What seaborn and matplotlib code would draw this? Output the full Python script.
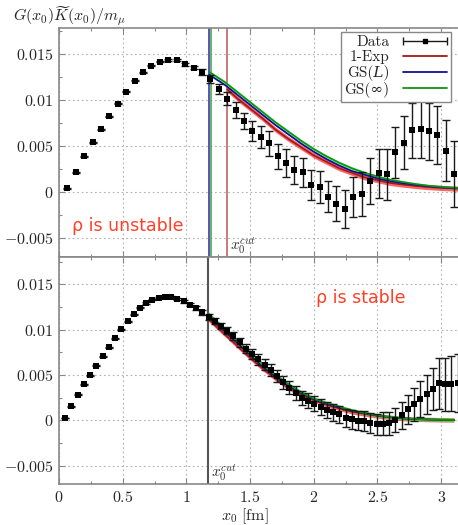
import numpy as np
import matplotlib
matplotlib.use("Agg")
import matplotlib.pyplot as plt
from matplotlib.ticker import MultipleLocator, FuncFormatter
from matplotlib.lines import Line2D
from matplotlib.legend_handler import HandlerErrorbar
import seaborn as sns

# ---------------- data ----------------
# lattice spacings of the two ensembles (fm)
a_top = 0.066
a_bot = 0.0489

# integrand G(x0) K(x0)/m_mu, upper ensemble
g_top = [0.00044, 0.00218, 0.00393, 0.00545, 0.00687, 0.00825, 0.00964, 0.01095, 0.01211, 0.01305,
         0.01375, 0.01422, 0.01436, 0.01436, 0.01393, 0.01356, 0.01305, 0.01229, 0.01127, 0.01018,
         0.00895, 0.00775, 0.00665, 0.00600, 0.00531, 0.00389, 0.00316, 0.00240, 0.00215, 0.00076,
         0.00055, -0.00050, -0.00124, -0.00185, -0.00050, -0.00020, 0.00124, 0.00204, 0.00193, 0.00433,
         0.00538, 0.00673, 0.00684, 0.00662, 0.00622, 0.00451, 0.00193]
e_top = [0.00005, 0.00005, 0.00005, 0.00005, 0.00005, 0.00005, 0.00005, 0.00005, 0.00005, 0.00005,
         0.00005, 0.00005, 0.0001, 0.0001, 0.00015, 0.0002, 0.00035, 0.00045, 0.00055, 0.0007,
         0.0009, 0.0009, 0.0011, 0.0012, 0.0014, 0.0014, 0.0015, 0.0015, 0.0016, 0.0016,
         0.0017, 0.0017, 0.0019, 0.0021, 0.0022, 0.0024, 0.0025, 0.0027, 0.0028, 0.0028,
         0.0029, 0.0030, 0.0031, 0.0031, 0.0032, 0.0033, 0.0036]

# integrand, lower ensemble
g_bot = [0.00026, 0.00157, 0.00282, 0.00395, 0.00497, 0.00600, 0.00706, 0.00805, 0.00907, 0.01002,
         0.01094, 0.01170, 0.01240, 0.01291, 0.01331, 0.01353, 0.01364, 0.01357, 0.01339, 0.01313,
         0.01276, 0.01240, 0.01189, 0.01137, 0.01090, 0.01040, 0.00990, 0.00930, 0.00860, 0.00790,
         0.00730, 0.00673, 0.00611, 0.00553, 0.00490, 0.00420, 0.00360, 0.00300, 0.00250, 0.00216,
         0.00183, 0.00150, 0.00113, 0.00090, 0.00066, 0.00025, 0.00010, -0.00005, -0.00005, -0.00030,
         -0.00045, -0.00037, -0.00035, 0.00003, 0.00055, 0.00123, 0.00178, 0.00233, 0.00285, 0.00344,
         0.00407, 0.00396, 0.00404, 0.00407]
e_bot = [0.00005, 0.00005, 0.00005, 0.00005, 0.00005, 0.00005, 0.00005, 0.00005, 0.00005, 0.00005,
         0.00006, 0.00006, 0.00007, 0.00008, 0.00008, 0.00009, 0.0001, 0.0001, 0.00012, 0.00015,
         0.0002, 0.00022, 0.00025, 0.0003, 0.00033, 0.00036, 0.0004, 0.00045, 0.0005, 0.00052,
         0.00055, 0.00058, 0.0006, 0.00063, 0.00066, 0.0007, 0.00072, 0.00075, 0.00078, 0.0008,
         0.00083, 0.00086, 0.0009, 0.00093, 0.00096, 0.0010, 0.00103, 0.00107, 0.0011, 0.00115,
         0.0012, 0.00125, 0.0013, 0.00135, 0.0015, 0.0016, 0.0018, 0.0020, 0.0021, 0.0023,
         0.0028, 0.0029, 0.0030, 0.0032]

x_top = a_top * np.arange(1, len(g_top) + 1)
x_bot = a_bot * np.arange(1, len(g_bot) + 1)

# model curves (upper ensemble)
gs_x_top = [1.18, 1.2, 1.3, 1.4, 1.5, 1.6, 1.7, 1.8, 1.9, 2.0, 2.1, 2.2, 2.3, 2.4, 2.5, 2.6,
            2.7, 2.8, 2.9, 3.0, 3.1, 3.14]
gsinf_top = [0.0131, 0.0129, 0.0120, 0.0109, 0.0098, 0.0087, 0.0076, 0.0066, 0.0056, 0.0047, 0.0039,
             0.0032, 0.0026, 0.0021, 0.0017, 0.00135, 0.0011, 0.00088, 0.0007, 0.00058, 0.00048, 0.00045]
gsL_top = [0.0128, 0.0126, 0.0117, 0.0106, 0.0095, 0.0084, 0.0073, 0.0063, 0.0053, 0.0044, 0.0036,
           0.0029, 0.0023, 0.0019, 0.0015, 0.0012, 0.00097, 0.0008, 0.00064, 0.00053, 0.00045, 0.00042]
exp_x_top = [1.32, 1.4, 1.5, 1.6, 1.7, 1.8, 1.9, 2.0, 2.1, 2.2, 2.3, 2.4, 2.5, 2.6, 2.7, 2.8,
             2.9, 3.0, 3.1, 3.14]
exp_top = [0.0112, 0.0102, 0.0091, 0.0080, 0.0068, 0.0058, 0.0049, 0.0040, 0.0033, 0.0026, 0.0021,
           0.0016, 0.0013, 0.0010, 0.00082, 0.00067, 0.00055, 0.00046, 0.0004, 0.00038]

# model curves (lower ensemble)
x_curve_bot = [1.17, 1.2, 1.3, 1.4, 1.5, 1.6, 1.7, 1.8, 1.9, 2.0, 2.1, 2.2, 2.3, 2.4, 2.5, 2.6,
               2.7, 2.8, 2.9, 3.0, 3.1]
gsinf_bot = [0.0118, 0.0114, 0.0101, 0.0088, 0.0075, 0.0062, 0.0050, 0.0040, 0.0031, 0.0024, 0.0019,
             0.0015, 0.0011, 0.0008, 0.00055, 0.00037, 0.00024, 0.00015, 0.0001, 0.00007, 0.00005]
gsL_bot = [0.0115, 0.0111, 0.0098, 0.0085, 0.0072, 0.0059, 0.0048, 0.0038, 0.0030, 0.0023, 0.0018,
           0.0014, 0.00105, 0.00077, 0.00053, 0.00035, 0.00022, 0.00014, 0.00009, 0.00006, 0.00005]
exp_bot = [0.0112, 0.0108, 0.0095, 0.0082, 0.0069, 0.0057, 0.0046, 0.0036, 0.0028, 0.0022, 0.0017,
           0.0013, 0.00095, 0.0007, 0.00048, 0.00032, 0.0002, 0.00013, 0.00009, 0.00006, 0.00005]

# x0 cuts
cut_gsL_top, cut_gsinf_top, cut_exp_top = 1.178, 1.194, 1.319
cut_bot = 1.17

legend_labels = ["Data", "1-Exp", "GS(\U0001D43F)", "GS(\u221E)"]

# ---------------- style ----------------
sns.set_theme(style="ticks")
plt.rcParams["font.family"] = ["cmr10"]
plt.rcParams["mathtext.fontset"] = "cm"
plt.rcParams["axes.unicode_minus"] = False

C_EXP, C_EXP_BAND = "#a01818", "#ff3030"
C_GSL, C_GSL_BAND = "#101090", "#5060ff"
C_GSI, C_GSI_BAND = "#10901a", "#30f030"
GRID = "#b0b0b0"
SPINE = "#888888"

W, H = 458, 525
fig = plt.figure(figsize=(W / 100, H / 100), dpi=100)
left, right = 59 / W, 1.0
ax1 = fig.add_axes([left, 1 - 257 / H, right - left, (257 - 28) / H])
ax2 = fig.add_axes([left, 1 - 484 / H, right - left, (484 - 256.5) / H])


def tick_fmt(v, pos):
    v = round(v, 6)
    if v == 0:
        return "$0$"
    return f"${v:g}$"


def style_axes(ax, ylim):
    ax.set_xlim(0, 3.132)
    ax.set_ylim(*ylim)
    ax.xaxis.set_major_locator(MultipleLocator(0.5))
    ax.xaxis.set_minor_locator(MultipleLocator(0.25))
    ax.yaxis.set_major_locator(MultipleLocator(0.005))
    ax.yaxis.set_minor_locator(MultipleLocator(0.0025))
    ax.yaxis.set_major_formatter(FuncFormatter(tick_fmt))
    ax.xaxis.set_major_formatter(FuncFormatter(tick_fmt))
    ax.grid(which="major", linestyle=(0, (1.5, 2.5)), color=GRID, linewidth=0.8)
    ax.tick_params(which="both", direction="in", top=True, right=False, color=SPINE,
                   labelsize=11.5, pad=4)
    ax.tick_params(which="major", length=4, width=0.8)
    ax.tick_params(which="minor", length=2.5, width=0.8)
    for side in ["left", "bottom", "top"]:
        ax.spines[side].set_color(SPINE)
        ax.spines[side].set_linewidth(1.2)
    ax.spines["right"].set_visible(False)
    ax.set_xlabel("")
    ax.set_ylabel("")


def draw_curve(ax, xs, ys, hw, band, line):
    xs = np.asarray(xs)
    ys = np.asarray(ys)
    ax.fill_between(xs, ys - hw, ys + hw, color=band, alpha=0.75, linewidth=0, zorder=2)
    sns.lineplot(x=xs, y=ys, ax=ax, color=line, linewidth=1.2, sort=False,
                 estimator=None, legend=False, zorder=3)


def draw_data(ax, xs, ys, es):
    ax.errorbar(xs, ys, yerr=es, fmt="none", ecolor="#1a1a1a", elinewidth=1.0,
                capsize=2.6, capthick=1.0, zorder=4)
    sns.scatterplot(x=xs, y=ys, ax=ax, marker="s", s=16, color="black",
                    edgecolor="black", linewidth=0, zorder=5, legend=False)


# ---------------- upper panel ----------------
ax1.axvline(cut_gsL_top, color="#3a3aa8", linewidth=1.2, zorder=1)
ax1.axvline(cut_gsinf_top, color="#4aa84a", linewidth=1.2, zorder=1)
ax1.axvline(cut_exp_top, color="#c06464", linewidth=1.2, zorder=1)
draw_curve(ax1, exp_x_top, exp_top, 0.00028, C_EXP_BAND, C_EXP)
draw_curve(ax1, gs_x_top, gsL_top, 0.0001, C_GSL_BAND, C_GSL)
draw_curve(ax1, gs_x_top, gsinf_top, 0.00015, C_GSI_BAND, C_GSI)
draw_data(ax1, x_top, g_top, e_top)
style_axes(ax1, (-0.00706, 0.01787))
ax1.tick_params(labelbottom=False)

ax1.text(0.10, -0.0037, "ρ is unstable", color="#ff4028", fontsize=12.5,
         family=["DejaVu Sans"], va="center", ha="left")
ax1.text(1.345, -0.0069, r"$x_0^{cut}$", fontsize=11, va="bottom", ha="left", color="#333333")

# legend
data_handle = ax1.errorbar([np.nan], [np.nan], xerr=[1.0], fmt="s", color="black",
                           markersize=3.2, ecolor="#1a1a1a", elinewidth=1.0,
                           capsize=2.6, capthick=1.0)
handles = [
    data_handle,
    Line2D([], [], color=C_EXP, linewidth=1.3),
    Line2D([], [], color=C_GSL, linewidth=1.3),
    Line2D([], [], color=C_GSI, linewidth=1.3),
]
leg = ax1.legend(handles, legend_labels, loc="upper right", bbox_to_anchor=(0.982, 0.983),
                 markerfirst=False, frameon=True, fancybox=False, framealpha=1,
                 edgecolor=SPINE, borderpad=0.25, handlelength=2.9, handletextpad=0.85,
                 labelspacing=0.05, borderaxespad=0,
                 prop={"family": ["cmr10", "DejaVu Serif"], "size": 11},
                 handler_map={type(data_handle): HandlerErrorbar(xerr_size=1.45)})
leg.get_frame().set_linewidth(1.0)

# ---------------- lower panel ----------------
ax2.axvline(cut_bot, color="#555555", linewidth=1.5, zorder=1)
draw_curve(ax2, x_curve_bot, exp_bot, 0.00025, C_EXP_BAND, C_EXP)
draw_curve(ax2, x_curve_bot, gsL_bot, 0.00008, C_GSL_BAND, C_GSL)
draw_curve(ax2, x_curve_bot, gsinf_bot, 0.0002, C_GSI_BAND, C_GSI)
draw_data(ax2, x_bot, g_bot, e_bot)
style_axes(ax2, (-0.00702, 0.01806))

ax2.text(2.02, 0.0135, "ρ is stable", color="#ff4028", fontsize=12.5,
         family=["DejaVu Sans"], va="center", ha="left")
ax2.text(1.19, -0.0069, r"$x_0^{cut}$", fontsize=11, va="bottom", ha="left", color="#333333")

# labels
fig.text(13 / W, 1 - 16 / H, r"$G(x_0)\widetilde{K}(x_0)/m_\mu$", fontsize=11.5,
         ha="left", va="center")
fig.text(245 / W, 1 - 516 / H, r"$x_0\ [\mathrm{fm}]$", fontsize=11.5, ha="center", va="center")

fig.savefig("out.png", dpi=100)
